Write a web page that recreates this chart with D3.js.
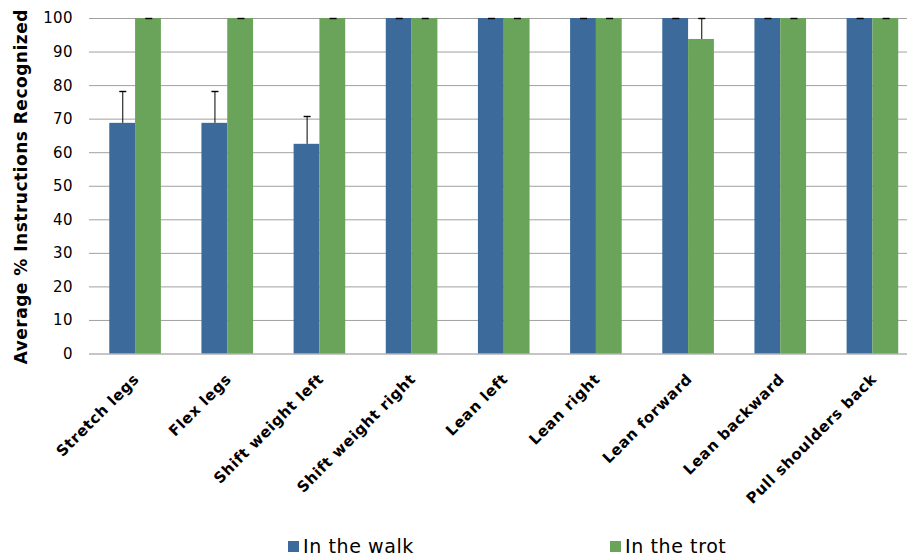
<!DOCTYPE html>
<html>
<head>
<meta charset="utf-8">
<script src="https://cdn.jsdelivr.net/npm/d3@7"></script>
<style>
  html, body { margin: 0; padding: 0; background: #fff; }
  svg { display: block; font-family: "DejaVu Sans", Verdana, sans-serif; }
</style>
</head>
<body>
<svg id="chart" width="907" height="556"></svg>
<script>
// Instructions and recognition rates (percent) in each gait
const categories = [
  "Stretch legs", "Flex legs", "Shift weight left", "Shift weight right",
  "Lean left", "Lean right", "Lean forward", "Lean backward", "Pull shoulders back"
];
const seriesNames = ["In the walk", "In the trot"];
const walkValues = [68.75, 68.75, 62.5, 100, 100, 100, 100, 100, 100];
const trotValues = [100, 100, 100, 100, 100, 100, 93.75, 100, 100];
// Upper error (percentage points) for each bar
const walkErrors = [9.38, 9.38, 8.33, 0, 0, 0, 0, 0, 0];
const trotErrors = [0, 0, 0, 0, 0, 0, 6.25, 0, 0];
const yTicks = [0, 10, 20, 30, 40, 50, 60, 70, 80, 90, 100];
const colors = ["#3b6a9b", "#6aa35a"];

const svg = d3.select("#chart");
const W = 907;
const plot = { left: 89, right: 918.5, top: 18, bottom: 353.5 };

const x0 = d3.scaleBand()
  .domain(categories)
  .range([plot.left, plot.right])
  .paddingInner(0.44)
  .paddingOuter(0.22);
const x1 = d3.scaleBand()
  .domain(seriesNames)
  .range([0, x0.bandwidth()]);
const y = d3.scaleLinear().domain([0, 100]).range([plot.bottom, plot.top]);

// Horizontal gridlines
svg.append("g")
  .selectAll("line")
  .data(yTicks.filter(t => t > 0))
  .join("line")
  .attr("x1", plot.left).attr("x2", W)
  .attr("y1", d => y(d) + 0.5).attr("y2", d => y(d) + 0.5)
  .attr("stroke", "#a0a0a0").attr("stroke-width", 1);

// Y tick labels
svg.append("g")
  .selectAll("text")
  .data(yTicks)
  .join("text")
  .attr("x", 73)
  .attr("y", d => y(d))
  .attr("dy", "0.36em")
  .attr("text-anchor", "end")
  .attr("font-size", 15)
  .attr("letter-spacing", 0.4)
  .attr("fill", "#000")
  .text(d => d);

// Y axis title
svg.append("text")
  .attr("transform", `translate(27,${(plot.top + plot.bottom) / 2 + 1}) rotate(-90)`)
  .attr("text-anchor", "middle")
  .attr("font-size", 17)
  .attr("font-weight", "bold")
  .attr("letter-spacing", 0.5)
  .attr("fill", "#000")
  .text("Average % Instructions Recognized");

// Bars
const rows = categories.map((c, i) => ({
  cat: c,
  items: [
    { s: seriesNames[0], v: walkValues[i], e: walkErrors[i], k: 0 },
    { s: seriesNames[1], v: trotValues[i], e: trotErrors[i], k: 1 }
  ]
}));

const groups = svg.append("g")
  .selectAll("g")
  .data(rows)
  .join("g")
  .attr("transform", d => `translate(${x0(d.cat)},0)`);

groups.selectAll("rect")
  .data(d => d.items)
  .join("rect")
  .attr("x", d => x1(d.s))
  .attr("y", d => y(d.v))
  .attr("width", x1.bandwidth())
  .attr("height", d => y(0) - y(d.v))
  .attr("fill", d => colors[d.k]);

// Baseline
svg.append("line")
  .attr("x1", plot.left).attr("x2", W)
  .attr("y1", y(0) + 0.5).attr("y2", y(0) + 0.5)
  .attr("stroke", "#8c8c8c").attr("stroke-width", 1);

// Upper error bars
const err = groups.selectAll("g.err")
  .data(d => d.items)
  .join("g")
  .attr("class", "err");
err.append("line")
  .attr("x1", d => Math.round(x1(d.s) + x1.bandwidth() / 2) + 0.5)
  .attr("x2", d => Math.round(x1(d.s) + x1.bandwidth() / 2) + 0.5)
  .attr("y1", d => y(d.v))
  .attr("y2", d => y(d.v + d.e))
  .attr("stroke", "#000").attr("stroke-width", 1);
err.append("line")
  .attr("x1", d => Math.round(x1(d.s) + x1.bandwidth() / 2) - 3)
  .attr("x2", d => Math.round(x1(d.s) + x1.bandwidth() / 2) + 4)
  .attr("y1", d => Math.round(y(d.v + d.e)) + 0.5)
  .attr("y2", d => Math.round(y(d.v + d.e)) + 0.5)
  .attr("stroke", "#000").attr("stroke-width", 1.4);

// Category labels, rotated
svg.append("g")
  .selectAll("text")
  .data(categories)
  .join("text")
  .attr("transform", d => `translate(${x0(d) + x0.bandwidth() / 2 + 5},380) rotate(-45)`)
  .attr("text-anchor", "end")
  .attr("font-size", 15)
  .attr("font-weight", "bold")
  .attr("letter-spacing", 0.6)
  .attr("fill", "#000")
  .text(d => d);

// Legend
const legendX = [288, 610];
const legend = svg.append("g")
  .selectAll("g")
  .data(seriesNames)
  .join("g")
  .attr("transform", (d, i) => `translate(${legendX[i]},541)`);
legend.append("rect")
  .attr("width", 11).attr("height", 11)
  .attr("fill", (d, i) => colors[i]);
legend.append("text")
  .attr("x", 15)
  .attr("y", 12)
  .attr("font-size", 19)
  .attr("letter-spacing", 0.6)
  .attr("fill", "#000")
  .text(d => d);
</script>
</body>
</html>
